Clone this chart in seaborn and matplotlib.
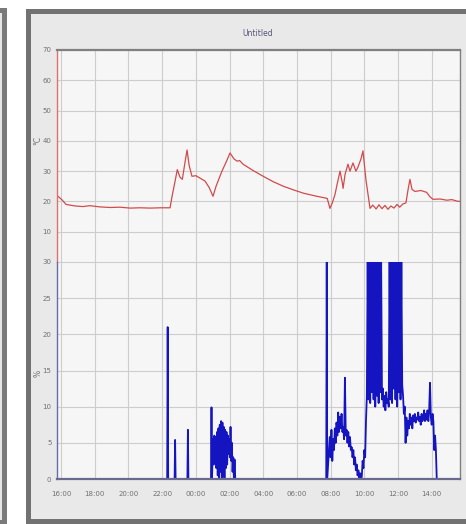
import matplotlib
matplotlib.use("Agg")
import pandas as pd
import seaborn as sns
import matplotlib.pyplot as plt
from matplotlib.patches import Rectangle

# x axis: hours since 16:00
tick_hours = [0, 2, 4, 6, 8, 10, 12, 14, 16, 18, 20, 22]
tick_labels = ["16:00", "18:00", "20:00", "22:00", "00:00", "02:00",
               "04:00", "06:00", "08:00", "10:00", "12:00", "14:00"]

temp_hours = [-0.24, 0.06, 0.3, 0.83, 1.3, 1.7, 2.3, 2.9, 3.5, 4.1, 4.7, 5.3, 5.9, 6.47,
              6.6, 6.77, 6.9, 7.06, 7.2, 7.36, 7.48, 7.6, 7.77, 8.0, 8.25, 8.55, 8.8,
              9.02, 9.2, 9.55, 9.8, 10.03, 10.27, 10.45, 10.6, 10.8, 11.4, 12.0, 12.6,
              13.2, 13.8, 14.4, 15.1, 15.8, 15.96, 16.1, 16.26, 16.4, 16.56, 16.7,
              16.74, 16.86, 17.03, 17.15, 17.33, 17.5, 17.6, 17.8, 17.92, 18.1, 18.34,
              18.5, 18.7, 18.87, 19.05, 19.23, 19.4, 19.58, 19.76, 19.94, 20.1, 20.3,
              20.47, 20.6, 20.71, 20.83, 21.0, 21.36, 21.7, 21.9, 22.08, 22.5, 22.9,
              23.2, 23.5, 23.68]
temp_values = [22, 20.5, 19, 18.5, 18.3, 18.6, 18.2, 18.0, 18.1, 17.8, 17.9, 17.8, 17.9, 17.9,
               22, 26.7, 30.5, 28, 27.3, 33, 37, 32, 28.3, 28.5, 27.7, 26.7, 24.5,
               21.7, 25, 30, 33, 36, 34, 33.3, 33.5, 32.3, 30.2, 28.3, 26.5,
               25, 23.8, 22.7, 21.8, 21, 17.7, 19.5, 22.3, 26, 30, 26,
               24.3, 29, 32.3, 30, 32.7, 30, 31, 34, 36.7, 27, 17.7,
               18.8, 17.5, 18.9, 17.6, 18.7, 17.4, 18.5, 17.8, 19, 18.1, 19.2,
               19.5, 24, 27.3, 24, 23.3, 23.6, 23, 21.5, 20.7, 20.8, 20.4,
               20.6, 20.1, 20]

hum_hours = [-0.24, 6.3, 6.33, 6.36, 6.74, 6.77, 6.8, 7.5, 7.53, 7.56, 8.9, 8.93, 8.96,
             9.02, 9.06, 9.10, 9.14, 9.18, 9.22, 9.26, 9.30, 9.34, 9.38, 9.42, 9.46,
             9.50, 9.54, 9.58, 9.62, 9.66, 9.70, 9.74, 9.78, 9.82, 9.86, 9.90, 9.94,
             9.98, 10.02, 10.06, 10.10, 10.14, 10.18, 10.22, 10.26, 10.30, 10.34,
             15.74, 15.77, 15.80,
             15.95, 16.00, 16.05, 16.10, 16.15, 16.20, 16.25, 16.30, 16.35, 16.40,
             16.45, 16.50, 16.55, 16.60, 16.65, 16.70, 16.75, 16.80, 16.85, 16.90,
             16.95, 17.00, 17.05, 17.10, 17.15, 17.20, 17.25, 17.30, 17.35, 17.40,
             17.45, 17.50, 17.55, 17.60, 17.65, 17.70, 17.75, 17.80, 17.85, 17.90,
             17.95, 18.00, 18.05, 18.10, 18.15,
             18.20, 18.25, 18.30, 18.35, 18.40, 18.45, 18.50, 18.55, 18.60, 18.65,
             18.70, 18.75, 18.80, 18.85, 18.90, 18.95, 19.00, 19.05, 19.10, 19.15,
             19.20, 19.25, 19.30, 19.35, 19.40, 19.45, 19.50, 19.55, 19.60, 19.65,
             19.70, 19.75, 19.80, 19.85, 19.90, 19.95, 20.00, 20.05, 20.10, 20.15,
             20.20, 20.25, 20.30, 20.35, 20.40,
             20.45, 20.50, 20.55, 20.60, 20.65, 20.70, 20.75, 20.80, 20.85, 20.90,
             20.95, 21.00, 21.05, 21.10, 21.15, 21.20, 21.25, 21.30, 21.35, 21.40,
             21.45, 21.50, 21.55, 21.60, 21.65, 21.70, 21.75, 21.80, 21.85, 21.90,
             21.95, 22.00, 22.05, 22.10, 22.15, 22.20, 22.25, 22.30, 23.68]
hum_values = [0, 0, 21, 0, 0, 5.4, 0, 0, 6.8, 0, 0, 9.9, 0,
              5.5, 2.0, 6.0, 3.0, 5.8, 1.5, 6.5, 0.5, 7.0, 0.0, 7.5, 1.0,
              8.0, 0.0, 7.8, 0.5, 7.2, 0.0, 6.8, 1.5, 6.5, 2.0, 6.0, 3.5,
              5.5, 3.0, 7.2, 2.5, 5.0, 1.0, 3.0, 0.0, 2.7, 0,
              0, 30, 0,
              5.8, 3.0, 6.8, 2.5, 5.5, 4.0, 7.0, 5.0, 7.8, 6.0,
              9.2, 6.5, 8.6, 7.0, 9.0, 6.5, 7.2, 5.5, 14.0, 6.0,
              6.8, 5.0, 6.5, 4.5, 5.8, 4.0, 4.4, 3.0, 4.0, 2.0,
              3.0, 1.2, 2.0, 0.5, 1.2, 0.0, 0.8, 0.0, 0.3, 2.5,
              1.5, 4.0, 3.0, 8.0, 11.4,
              30, 11, 30, 10.5, 30, 12, 30, 11, 30, 10,
              30, 11.5, 30, 10.5, 30, 12, 30, 11, 12.5, 10,
              11.5, 9.5, 12, 10.5, 11, 10, 30, 11, 30, 10.5,
              30, 12.5, 30, 11, 30, 10, 30, 12, 30, 11,
              30, 13, 11.5, 9.0, 10,
              5.0, 8.5, 6.0, 8.0, 7.0, 9.0, 7.5, 8.5, 7.0, 8.8,
              8.0, 9.0, 7.8, 8.5, 8.2, 9.2, 8.0, 8.6, 7.5, 9.0,
              8.0, 8.5, 9.5, 8.0, 9.0, 8.2, 9.5, 8.0, 9.5, 13.3,
              8.5, 7.5, 9.0, 8.0, 4.0, 6.0, 4.0, 0, 0]

temp_df = pd.DataFrame({"hour": temp_hours, "temp": temp_values})
hum_df = pd.DataFrame({"hour": hum_hours, "rh": hum_values})

sns.set_style("whitegrid")
W, H = 466, 524
fig = plt.figure(figsize=(W / 100, H / 100), dpi=100)
fig.patch.set_facecolor("white")


def px(x0, y0):
    return x0 / W, 1 - y0 / H


# panel frames
fig.patches.append(Rectangle(px(-30, 522), 34 / W, 512 / H, transform=fig.transFigure,
                             facecolor="#e6e6e6", edgecolor="#7a7a7a", lw=3.6, zorder=-5))
fig.patches.append(Rectangle(px(27.5, 520.5), 450 / W, 510 / H, transform=fig.transFigure,
                             facecolor="#e9e9e9", edgecolor="#727272", lw=3.6, zorder=-5))

left, right, top, mid, bottom = 57, 460, 50, 262, 479
ax_t = fig.add_axes([left / W, 1 - mid / H, (right - left) / W, (mid - top) / H])
ax_b = fig.add_axes([left / W, 1 - bottom / H, (right - left) / W, (bottom - mid) / H])

sns.lineplot(data=temp_df, x="hour", y="temp", ax=ax_t, color="#d24a4a", lw=0.9)
sns.lineplot(data=hum_df, x="hour", y="rh", ax=ax_b, color="#1414c0", lw=1.3)

for ax in (ax_t, ax_b):
    ax.set_facecolor("#f6f6f6")
    ax.set_xlim(-0.24, 23.68)
    ax.set_xticks(tick_hours)
    ax.grid(True, color="#cdcdcd", lw=0.8)
    ax.tick_params(length=0, labelsize=5, labelcolor="#707070")
    ax.tick_params(axis="y", pad=4)
    ax.set_xlabel("")
    ax.set_ylabel("")

ax_t.set_ylim(0, 70)
ax_t.set_yticks(range(0, 71, 10))
ax_t.set_yticklabels([""] + [str(v) for v in range(10, 71, 10)])
ax_t.set_xticklabels([])
ax_b.set_ylim(0, 30)
ax_b.set_yticks(range(0, 31, 5))
ax_b.set_xticklabels(tick_labels)
ax_b.tick_params(axis="x", pad=9)

for side in ("top", "right"):
    ax_t.spines[side].set_color("#808080")
ax_t.spines["top"].set_linewidth(1.6)
ax_t.spines["right"].set_linewidth(1.0)
ax_t.spines["bottom"].set_visible(False)
ax_t.spines["left"].set_color("#e07070")
ax_t.spines["left"].set_linewidth(1.0)
ax_b.spines["top"].set_visible(False)
ax_b.spines["right"].set_color("#808080")
ax_b.spines["right"].set_linewidth(1.0)
ax_b.spines["left"].set_color("#6a6ab0")
ax_b.spines["left"].set_linewidth(1.0)
ax_b.spines["bottom"].set_color("#6a6a90")
ax_b.spines["bottom"].set_linewidth(1.6)

fig.text(*px(258, 33), "Untitled", ha="center", va="center", fontsize=5.5, color="#55557a")
fig.text(*px(38, 140), "°C", ha="center", va="center", rotation=90, fontsize=5.5, color="#707070")
fig.text(*px(38, 373), "%", ha="center", va="center", rotation=90, fontsize=5.5, color="#707070")

fig.savefig("out.png", dpi=100)
